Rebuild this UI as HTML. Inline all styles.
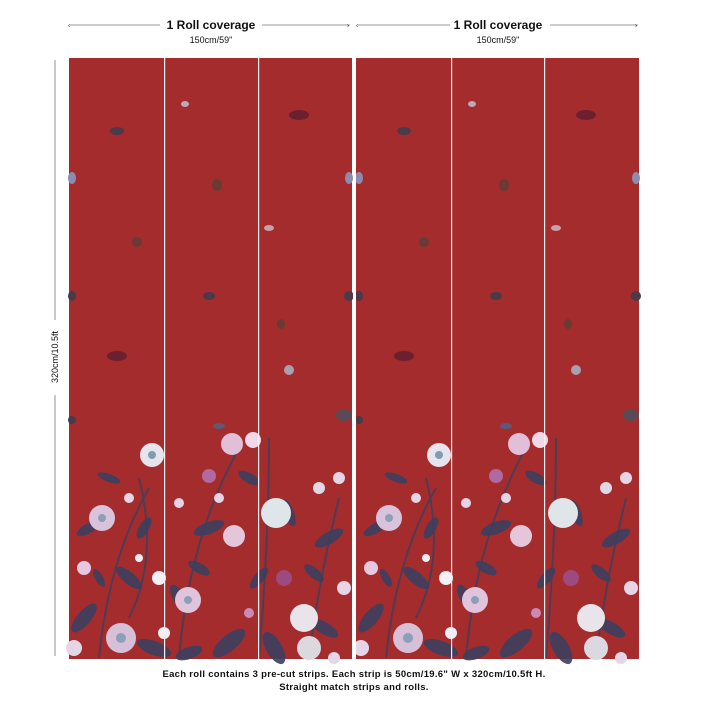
<!DOCTYPE html>
<html><head><meta charset="utf-8"><style>
body{margin:0;background:#fff;width:709px;height:709px;overflow:hidden;font-family:"Liberation Sans",sans-serif;}
</style></head><body>
<svg width="709" height="709" viewBox="0 0 709 709" xmlns="http://www.w3.org/2000/svg">
<defs>
<g id="roll">
  <rect x="0" y="0" width="283" height="601" fill="#a52c2d"/>
  <g fill="#4a3a4a">
    <ellipse cx="48" cy="73" rx="7" ry="4"/>
    <ellipse cx="116" cy="46" rx="4" ry="3" fill="#b9aab8"/>
    <ellipse cx="230" cy="57" rx="10" ry="5" fill="#6b2030"/>
    <ellipse cx="148" cy="127" rx="5" ry="6" fill="#6a3a35"/>
    <ellipse cx="68" cy="184" rx="5" ry="5" fill="#6a3a35"/>
    <ellipse cx="200" cy="170" rx="5" ry="3" fill="#c7a0b0"/>
    <ellipse cx="3" cy="120" rx="4" ry="6" fill="#8c8cb0"/>
    <ellipse cx="280" cy="120" rx="4" ry="6" fill="#8c8cb0"/>
    <ellipse cx="140" cy="238" rx="6" ry="4"/>
    <ellipse cx="3" cy="238" rx="4" ry="5"/>
    <ellipse cx="280" cy="238" rx="5" ry="5"/>
    <ellipse cx="212" cy="266" rx="4" ry="5" fill="#6a3a35"/>
    <ellipse cx="48" cy="298" rx="10" ry="5" fill="#6b2030"/>
    <ellipse cx="220" cy="312" rx="5" ry="5" fill="#a8a0b0"/>
    <ellipse cx="275" cy="357" rx="8" ry="6" fill="#5a4a55"/>
    <ellipse cx="3" cy="362" rx="4" ry="4"/>
    <ellipse cx="150" cy="368" rx="6" ry="3" fill="#5a5a7a"/>
  </g>
  <g fill="#3b3f5f" opacity="0.9">
    <ellipse cx="20" cy="470" rx="14" ry="5" transform="rotate(-30 20 470)"/>
    <ellipse cx="60" cy="520" rx="16" ry="6" transform="rotate(40 60 520)"/>
    <ellipse cx="15" cy="560" rx="18" ry="7" transform="rotate(-50 15 560)"/>
    <ellipse cx="85" cy="590" rx="18" ry="7" transform="rotate(20 85 590)"/>
    <ellipse cx="140" cy="470" rx="16" ry="6" transform="rotate(-20 140 470)"/>
    <ellipse cx="110" cy="540" rx="15" ry="6" transform="rotate(60 110 540)"/>
    <ellipse cx="160" cy="585" rx="20" ry="8" transform="rotate(-40 160 585)"/>
    <ellipse cx="205" cy="590" rx="18" ry="8" transform="rotate(60 205 590)"/>
    <ellipse cx="180" cy="420" rx="12" ry="5" transform="rotate(30 180 420)"/>
    <ellipse cx="260" cy="480" rx="16" ry="6" transform="rotate(-30 260 480)"/>
    <ellipse cx="255" cy="570" rx="16" ry="6" transform="rotate(30 255 570)"/>
    <ellipse cx="40" cy="420" rx="12" ry="4" transform="rotate(20 40 420)"/>
    <ellipse cx="220" cy="455" rx="14" ry="5" transform="rotate(70 220 455)"/>
    <ellipse cx="75" cy="470" rx="12" ry="5" transform="rotate(-60 75 470)"/>
    <ellipse cx="130" cy="510" rx="12" ry="5" transform="rotate(30 130 510)"/>
    <ellipse cx="190" cy="520" rx="13" ry="5" transform="rotate(-50 190 520)"/>
    <ellipse cx="245" cy="515" rx="12" ry="5" transform="rotate(40 245 515)"/>
    <ellipse cx="30" cy="520" rx="10" ry="4" transform="rotate(60 30 520)"/>
    <ellipse cx="120" cy="595" rx="14" ry="6" transform="rotate(-20 120 595)"/>
  </g>
  <g stroke="#3b3f5f" stroke-width="2" fill="none" opacity="0.8">
    <path d="M30 600 Q40 500 80 430"/><path d="M110 600 Q120 480 170 390"/><path d="M190 600 Q200 480 200 380"/>
    <path d="M60 560 Q90 500 70 420"/><path d="M240 600 Q250 520 270 440"/>
  </g>
  <g>
    <circle cx="83" cy="397" r="12" fill="#e8e4ee"/><circle cx="83" cy="397" r="4" fill="#7f9cb0"/>
    <circle cx="163" cy="386" r="11" fill="#e2bfd8"/>
    <circle cx="184" cy="382" r="8" fill="#f0d8e8"/>
    <circle cx="33" cy="460" r="13" fill="#d9c3dc"/><circle cx="33" cy="460" r="4" fill="#8ba0b8"/>
    <circle cx="165" cy="478" r="11" fill="#e5c5da"/>
    <circle cx="207" cy="455" r="15" fill="#dfe6ea"/>
    <circle cx="119" cy="542" r="13" fill="#e0c4dc"/><circle cx="119" cy="542" r="4" fill="#8ba0b8"/>
    <circle cx="52" cy="580" r="15" fill="#d8bfd8"/><circle cx="52" cy="580" r="5" fill="#8ba0b8"/>
    <circle cx="235" cy="560" r="14" fill="#e8e4ea"/>
    <circle cx="240" cy="590" r="12" fill="#dcd8e0"/>
    <circle cx="90" cy="520" r="7" fill="#f2f0f4"/>
    <circle cx="15" cy="510" r="7" fill="#e6c9e0"/>
    <circle cx="140" cy="418" r="7" fill="#b06aa0"/>
    <circle cx="110" cy="445" r="5" fill="#e6d5e6"/>
    <circle cx="60" cy="440" r="5" fill="#e6d5e6"/>
    <circle cx="270" cy="420" r="6" fill="#e6d5e6"/>
    <circle cx="215" cy="520" r="8" fill="#9c4a80"/>
    <circle cx="95" cy="575" r="6" fill="#f0eef4"/>
    <circle cx="5" cy="590" r="8" fill="#e6d5e6"/>
    <circle cx="275" cy="530" r="7" fill="#e6d5e6"/>
    <circle cx="150" cy="440" r="5" fill="#e6d5e6"/>
    <circle cx="250" cy="430" r="6" fill="#e0d8e4"/>
    <circle cx="70" cy="500" r="4" fill="#f0eef4"/>
    <circle cx="180" cy="555" r="5" fill="#c98ab8"/>
    <circle cx="265" cy="600" r="6" fill="#e6d5e6"/>
  </g>
</g>
</defs>
<g transform="translate(69,58)"><use href="#roll"/></g>
<g transform="translate(356,58)"><use href="#roll"/></g>
<rect x="353" y="58" width="3" height="601" fill="#fff"/>
<g fill="#f4eeee"><rect x="164" y="58" width="1.2" height="601"/><rect x="258" y="58" width="1.2" height="601"/><rect x="451" y="58" width="1.2" height="601"/><rect x="544" y="58" width="1.2" height="601"/></g>
<g stroke="#777" stroke-width="0.8" fill="none">
  <line x1="70" y1="25" x2="160" y2="25"/><line x1="262" y1="25" x2="350" y2="25"/>
  <line x1="358" y1="25" x2="450" y2="25"/><line x1="550" y1="25" x2="638" y2="25"/>
  <line x1="55" y1="60" x2="55" y2="320"/><line x1="55" y1="395" x2="55" y2="656"/>
</g>
<g fill="#333" font-size="7">
  <text x="68" y="27.5">‹</text><text x="347" y="27.5">›</text><text x="356" y="27.5">‹</text><text x="635" y="27.5">›</text>
</g>
<g font-family="Liberation Sans, sans-serif" fill="#111" text-anchor="middle">
  <text x="211" y="29" font-size="12" font-weight="bold">1 Roll coverage</text>
  <text x="211" y="43" font-size="9">150cm/59"</text>
  <text x="498" y="29" font-size="12" font-weight="bold">1 Roll coverage</text>
  <text x="498" y="43" font-size="9">150cm/59"</text>
  <text x="0" y="0" font-size="9" transform="translate(58 357) rotate(-90)">320cm/10.5ft</text>
  <text x="354" y="677" font-size="9.5" font-weight="bold" letter-spacing="0.3">Each roll contains 3 pre-cut strips.  Each strip is 50cm/19.6" W x 320cm/10.5ft H.</text>
  <text x="354" y="690" font-size="9.5" font-weight="bold" letter-spacing="0.3">Straight match strips and rolls.</text>
</g>
</svg>
</body></html>
